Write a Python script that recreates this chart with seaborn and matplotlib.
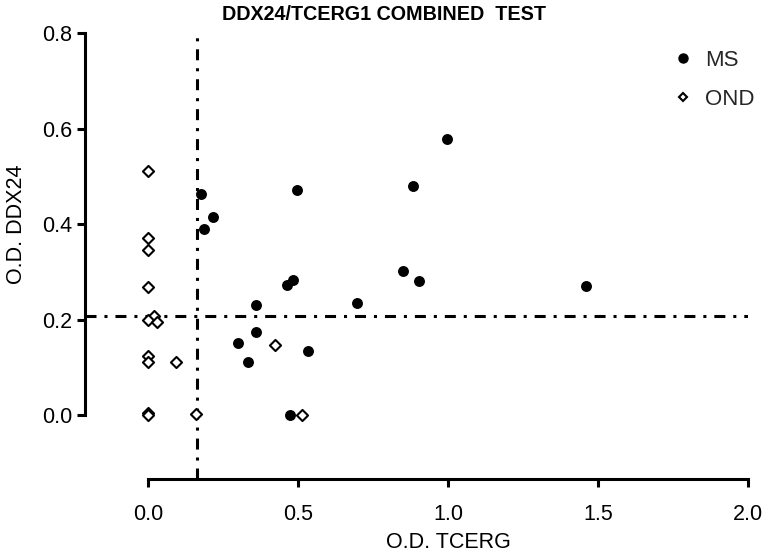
import numpy as np
import pandas as pd
import matplotlib
matplotlib.use("Agg")
import matplotlib.pyplot as plt
import seaborn as sns
from matplotlib.lines import Line2D

# ---- data ----
ms_x = [0.996, 0.882, 0.849, 0.904, 0.696, 1.46, 0.176, 0.216, 0.187, 0.496,
        0.482, 0.464, 0.359, 0.361, 0.301, 0.534, 0.334, 0.474]
ms_y = [0.579, 0.480, 0.302, 0.280, 0.235, 0.270, 0.463, 0.414, 0.390, 0.471,
        0.283, 0.272, 0.230, 0.173, 0.150, 0.135, 0.112, 0.000]
ond_x = [0.0, 0.0, 0.0, 0.0, 0.021, 0.0, 0.029, 0.0, 0.0, 0.094,
         0.0, 0.0, 0.161, 0.424, 0.512]
ond_y = [0.512, 0.371, 0.346, 0.268, 0.208, 0.199, 0.195, 0.124, 0.112, 0.110,
         0.004, 0.000, 0.003, 0.147, 0.000]
groups = ["MS", "OND"]
cutoff_x = 0.162
cutoff_y = 0.208
x_ticks = [0.0, 0.5, 1.0, 1.5, 2.0]
y_ticks = [0.0, 0.2, 0.4, 0.6, 0.8]
title = "DDX24/TCERG1 COMBINED  TEST"
x_label = "O.D. TCERG"
y_label = "O.D. DDX24"

df = pd.DataFrame({
    "x": ms_x + ond_x,
    "y": ms_y + ond_y,
    "group": [groups[0]] * len(ms_x) + [groups[1]] * len(ond_x),
})

sns.set_theme(style="ticks")
plt.rcParams["font.family"] = ["Liberation Sans", "DejaVu Sans"]

fig = plt.figure(figsize=(7.68, 5.55), dpi=100)
ax = fig.add_axes([85 / 768, 1 - 479 / 555, (748 - 85) / 768, (479 - 33) / 555])

dashes = (0, (3.6, 2.6, 1.0, 2.6))
ax.axhline(cutoff_y, color="black", lw=2.2, linestyle=dashes, dash_capstyle="butt", zorder=1)
ax.axvline(cutoff_x, color="black", lw=2.2, linestyle=dashes, dash_capstyle="butt", zorder=1)

sns.scatterplot(data=df[df.group == "MS"], x="x", y="y", ax=ax, marker="o",
                s=62, color="black", edgecolor="black", linewidth=0,
                legend=False, clip_on=False, zorder=3)
sns.scatterplot(data=df[df.group == "OND"], x="x", y="y", ax=ax, marker="D",
                s=32, facecolor="white", edgecolor="black", linewidth=1.5,
                legend=False, clip_on=False, zorder=3)

ax.set_xlim(-0.21, 2.0)
ax.set_ylim(-0.134, 0.8)
ax.set_xticks(x_ticks)
ax.set_yticks(y_ticks)
ax.set_xticklabels([f"{v:.1f}" for v in x_ticks])
ax.set_yticklabels([f"{v:.1f}" for v in y_ticks])

for side in ["top", "right"]:
    ax.spines[side].set_visible(False)
ax.spines["bottom"].set_bounds(0, 2.0)
ax.spines["left"].set_bounds(0, 0.8)
for side in ["bottom", "left"]:
    ax.spines[side].set_linewidth(2.2)
    ax.spines[side].set_color("black")
ax.tick_params(axis="both", width=2.2, length=6, color="black",
               labelsize=15.5, labelcolor="black")
ax.tick_params(axis="y", pad=3)
ax.tick_params(axis="x", pad=12)

ax.set_xlabel(x_label, fontsize=15.5, color="black")
ax.set_ylabel(y_label, fontsize=15.5, color="black")
ax.xaxis.set_label_coords((448 - 85) / (748 - 85), -0.118)
ax.yaxis.set_label_coords(-0.088, (479 - 224) / (479 - 33))

fig.text(384 / 768, 1 - 15 / 555, title, ha="center", va="center",
         fontsize=14.2, fontweight="bold", color="black")

handles = [
    Line2D([], [], marker="o", linestyle="none", color="black", markersize=6.5),
    Line2D([], [], marker="D", linestyle="none", markerfacecolor="white",
           markeredgecolor="black", markeredgewidth=1.5, markersize=4.5),
]
ax.legend(handles, groups, loc="upper left",
          bbox_to_anchor=((672 - 85) / 663, (479 - 50) / 446),
          frameon=False, fontsize=16, handletextpad=0.5, labelspacing=0.8,
          handlelength=1.0, borderaxespad=0.0, borderpad=0.0)

fig.savefig("out.png", dpi=100)
